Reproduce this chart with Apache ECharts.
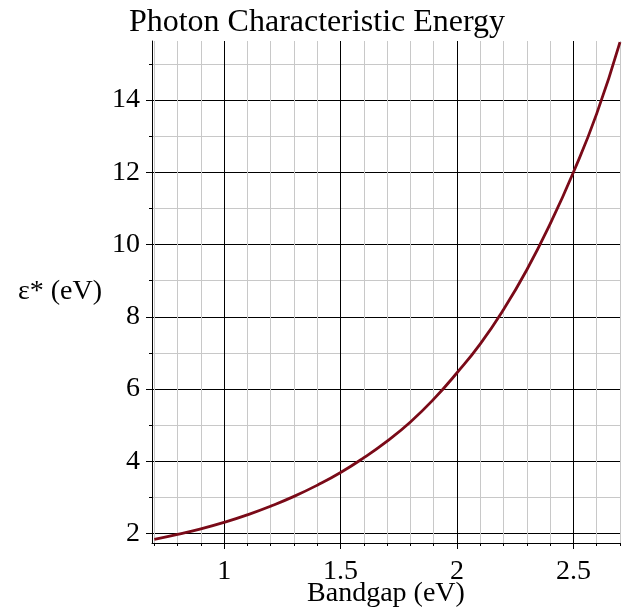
<!DOCTYPE html>
<html>
<head>
<meta charset="utf-8">
<script src="https://cdn.jsdelivr.net/npm/echarts@6/dist/echarts.min.js"></script>
<style>
html, body { margin: 0; padding: 0; background: #fff; }
#chart { width: 623px; height: 616px; }
</style>
</head>
<body>
<div id="chart"></div>
<script>
// bandgap (eV) and photon characteristic energy (eV)
var bandgap = [0.7, 0.8, 0.9, 1.0, 1.1, 1.2, 1.3, 1.4, 1.5, 1.6, 1.7, 1.8, 1.9, 2.0, 2.1, 2.2, 2.3, 2.4, 2.5, 2.6, 2.7];
var energy = [1.84, 1.98, 2.13, 2.31, 2.52, 2.76, 3.03, 3.34, 3.69, 4.10, 4.56, 5.09, 5.72, 6.45, 7.25, 8.2, 9.3, 10.57, 12.0, 13.62, 15.6];

// tick positions
var xMajor = [1, 1.5, 2, 2.5];
var xMinor = [0.7, 0.8, 0.9, 1.1, 1.2, 1.3, 1.4, 1.6, 1.7, 1.8, 1.9, 2.1, 2.2, 2.3, 2.4, 2.6, 2.7];
var yMajor = [2, 4, 6, 8, 10, 12, 14];
var yMinor = [3, 5, 7, 9, 11, 13, 15];

var font = "Liberation Serif";
var xRange = [0.69, 2.7];
var yRange = [1.74, 15.63];
var chart = echarts.init(document.getElementById("chart"));

function makeAxis(ticks, major, isX) {
  return {
    type: "value",
    position: isX ? "bottom" : "left",
    offset: 0,
    min: isX ? xRange[0] : yRange[0],
    max: isX ? xRange[1] : yRange[1],
    axisLine: { show: major, onZero: false, lineStyle: { color: "#000", width: 1 } },
    axisTick: { show: true, customValues: ticks, length: major ? 6 : 3, lineStyle: { color: "#000" } },
    splitLine: {
      show: true,
      lineStyle: { color: major ? "#000" : "#c8c8c8", width: 1 }
    },
    axisLabel: {
      show: major,
      customValues: ticks,
      margin: isX ? 15 : 12,
      fontFamily: font,
      fontSize: 28,
      color: "#000"
    }
  };
}

var xMinorAxis = makeAxis(xMinor, false, true);
var xMajorAxis = makeAxis(xMajor, true, true);
xMajorAxis.name = "Bandgap (eV)";
xMajorAxis.nameLocation = "middle";
xMajorAxis.nameGap = 37;
xMajorAxis.nameMoveOverlap = false;
xMajorAxis.nameTextStyle = { fontFamily: font, fontSize: 28, color: "#000" };

var yMinorAxis = makeAxis(yMinor, false, false);
var yMajorAxis = makeAxis(yMajor, true, false);
yMajorAxis.name = "ε* (eV)";
yMajorAxis.nameLocation = "middle";
yMajorAxis.nameRotate = 0;
yMajorAxis.nameGap = 50;
yMajorAxis.nameMoveOverlap = false;
yMajorAxis.nameTextStyle = { fontFamily: font, fontSize: 28, color: "#000", padding: [6, 0, 0, 0] };

var option = {
  animation: false,
  title: {
    text: "Photon Characteristic Energy",
    left: 312,
    top: 2,
    textAlign: "center",
    textStyle: { fontFamily: font, fontSize: 32, fontWeight: "normal", color: "#000" }
  },
  grid: { left: 152, right: 3, top: 41, bottom: 73, containLabel: false, outerBoundsMode: "none" },
  xAxis: [xMinorAxis, xMajorAxis],
  yAxis: [yMinorAxis, yMajorAxis],
  series: [
    {
      type: "line",
      xAxisIndex: 1,
      yAxisIndex: 1,
      data: bandgap.map(function (x, i) { return [x, energy[i]]; }),
      showSymbol: false,
      smooth: true,
      lineStyle: { color: "#7a0a18", width: 2.8 }
    }
  ]
};

chart.setOption(option);
</script>
</body>
</html>
